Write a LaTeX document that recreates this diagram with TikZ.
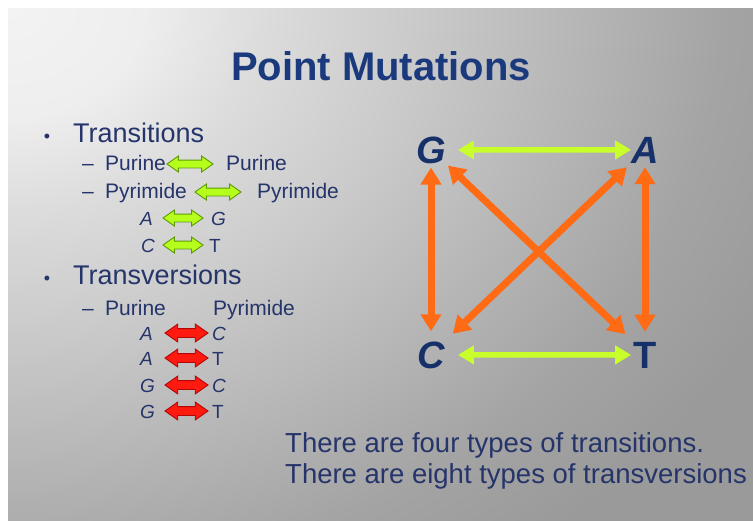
\documentclass[tikz,border=0pt]{standalone}
\usepackage{fontspec}
\setmainfont{Liberation Sans}
\usetikzlibrary{arrows.meta,shapes.arrows}
\definecolor{navy}{HTML}{25346A}
\definecolor{titleblue}{HTML}{1B3A7E}
\definecolor{lettblue}{HTML}{16306A}
\definecolor{bgA}{HTML}{F3F3F3}
\definecolor{bgB}{HTML}{EEEEEE}
\definecolor{bgC}{HTML}{DCDCDC}
\definecolor{bgD}{HTML}{CACACA}
\definecolor{bgE}{HTML}{B7B7B7}
\definecolor{bgF}{HTML}{A4A4A4}
\definecolor{bgG}{HTML}{9A9A9A}
\definecolor{gfill}{HTML}{B6FF1C}
\definecolor{gline}{HTML}{5E9A08}
\definecolor{rfill}{HTML}{FF1A10}
\definecolor{rline}{HTML}{B00808}
\definecolor{orangeA}{HTML}{FF6A14}
\definecolor{greenA}{HTML}{C8FF2A}
\pgfdeclareradialshading{slidebg}{\pgfpoint{0bp}{0bp}}{color(0bp)=(bgA);color(4bp)=(bgB);color(7.5bp)=(bgC);color(12bp)=(bgD);color(16.5bp)=(bgE);color(21bp)=(bgF);color(25bp)=(bgG);color(50bp)=(bgG)}
\begin{document}
\begin{tikzpicture}[x=1pt,y=-1pt,
  txt/.style={anchor=base west,inner sep=0pt,text=navy},
  lvlone/.style={txt,font=\fontsize{27}{30}\selectfont},
  lvltwo/.style={txt,font=\fontsize{21}{24}\selectfont},
  bul/.style={anchor=base,inner sep=0pt,text=navy,font=\fontsize{18}{20}\selectfont},
  lett/.style={txt,font=\fontsize{19}{22}\selectfont\itshape},
  lettup/.style={txt,font=\fontsize{19}{22}\selectfont},
  big/.style={anchor=base,inner sep=2pt,text=lettblue,font=\fontsize{38}{40}\selectfont\bfseries\itshape},
  bigup/.style={big,font=\fontsize{38}{40}\selectfont\bfseries},
  blockarrow/.style={double arrow,line width=0.9pt,inner xsep=0pt,
    double arrow tip angle=70,minimum height=#1},
  garrow/.style={blockarrow=#1,draw=gline,fill=gfill,inner ysep=3.5pt,double arrow head extend=4pt},
  rarrow/.style={blockarrow=#1,draw=rline,fill=rfill,inner ysep=4pt,double arrow head extend=4.5pt},
  oarr/.style={draw=orangeA,line width=7pt,{Triangle[length=17pt,width=20pt]}-{Triangle[length=17pt,width=20pt]}},
  garr/.style={draw=greenA,line width=5.5pt,{Triangle[length=16pt,width=18pt]}-{Triangle[length=16pt,width=18pt]}}
]
\useasboundingbox (0,0) rectangle (753,520);
\fill[white] (0,0) rectangle (753,520);
\begin{scope}
  \clip (8,8) rectangle (753,520);
  \fill[bgG] (8,8) rectangle (753,520);
  \shade[shading=slidebg] (-842,-672) rectangle (858,688);
\end{scope}

% title
\node[anchor=base,inner sep=0pt,text=titleblue,font=\fontsize{40}{44}\selectfont\bfseries] (title) at (381,80) {Point Mutations};

% Transitions
\node[bul] (b1) at (47,142) {•};
\node[lvlone] (trans) at (73,142) {Transitions};
\node[lvltwo] (d1) at (82,170) {–};
\node[lvltwo] (pur1) at (105,170) {Purine};
\node[garrow=46pt] (ga1) at (190,164) {};
\node[lvltwo] (pur2) at (226,170) {Purine};
\node[lvltwo] (d2) at (82,198) {–};
\node[lvltwo] (pyr1) at (105,198) {Pyrimide};
\node[garrow=46pt] (ga2) at (218,192) {};
\node[lvltwo] (pyr2) at (257,198) {Pyrimide};
\node[lett] (tA) at (140,225) {A};
\node[garrow=40pt] (ga3) at (183,218) {};
\node[lett] (tG) at (211,225) {G};
\node[lett] (tC) at (141,252) {C};
\node[garrow=40pt] (ga4) at (183,245) {};
\node[lettup] (tT) at (209,252) {T};

% Transversions
\node[bul] (b2) at (47,284) {•};
\node[lvlone] (transv) at (73,284) {Transversions};
\node[lvltwo] (d3) at (82,315) {–};
\node[lvltwo] (pur3) at (105,315) {Purine};
\node[lvltwo] (pyr3) at (213,315) {Pyrimide};
\node[lett] (vA1) at (140,340) {A};
\node[rarrow=43pt] (ra1) at (186.5,333) {};
\node[lett] (vC1) at (212,340) {C};
\node[lett] (vA2) at (140,365) {A};
\node[rarrow=43pt] (ra2) at (186.5,358) {};
\node[lettup] (vT1) at (212,365) {T};
\node[lett] (vG1) at (140,392) {G};
\node[rarrow=43pt] (ra3) at (186.5,385) {};
\node[lett] (vC2) at (212,392) {C};
\node[lett] (vG2) at (140,418) {G};
\node[rarrow=43pt] (ra4) at (186.5,411) {};
\node[lettup] (vT2) at (212,418) {T};

% square diagram
\node[big] (G) at (431,163) {G};
\node[big] (A) at (645,163) {A};
\node[big] (C) at (431,368) {C};
\node[bigup] (T) at (645,368) {T};
\draw[garr,shorten <=10pt,shorten >=-2pt] (G.east) -- (A.west);
\draw[garr,shorten <=11pt,shorten >=0pt] (C.east) -- (T.west);
\draw[oarr,shorten <=2pt,shorten >=8pt] (G.south) -- (C.north);
\draw[oarr,shorten <=2pt,shorten >=8pt] (A.south) -- (T.north);
\draw[oarr,shorten <=0pt,shorten >=8pt] (G.south east) -- (T.north west);
\draw[oarr,shorten <=3pt,shorten >=8pt] (A.south west) -- (C.north east);

% bottom text
\node[txt,font=\fontsize{27.5}{30}\selectfont] (s1) at (285,452) {There are four types of transitions.};
\node[txt,font=\fontsize{27.5}{30}\selectfont] (s2) at (285,483) {There are eight types of transversions};
\end{tikzpicture}
\end{document}
